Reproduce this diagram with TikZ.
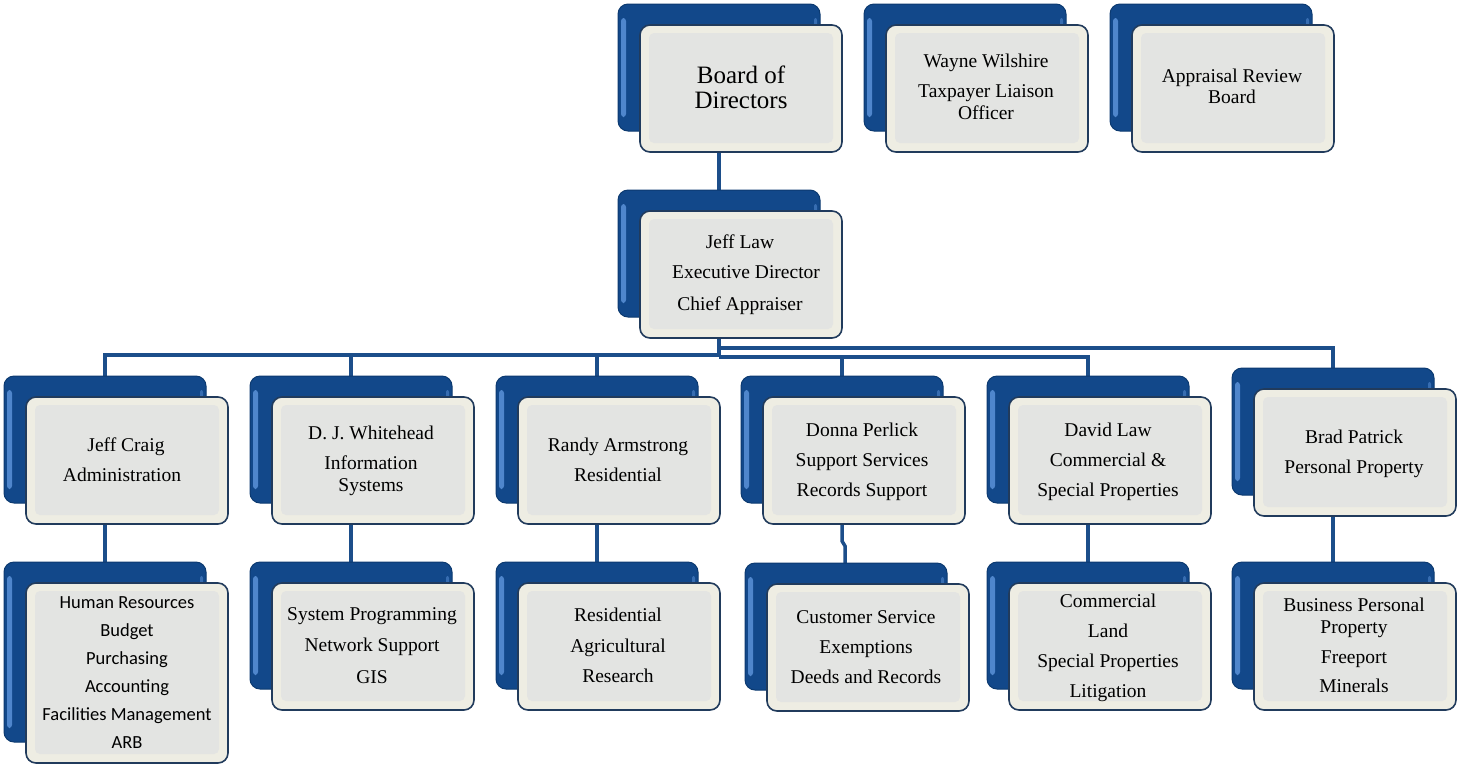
\documentclass[tikz,border=0pt]{standalone}
\usepackage{fontspec}
\setmainfont{Liberation Serif}
\newfontfamily\subsans{Carlito}
\usetikzlibrary{backgrounds}
\definecolor{bkblue}{HTML}{12488A}
\definecolor{bkdark}{HTML}{0C3A70}
\definecolor{bkhi}{HTML}{4F86CC}
\definecolor{frcream}{HTML}{EEEDE3}
\definecolor{frgray}{HTML}{E3E4E2}
\definecolor{frborder}{HTML}{213B5C}
\definecolor{lnblue}{HTML}{1C4E8A}
\tikzset{
  backbox/.style={rounded corners=10pt, fill=bkblue, draw=bkdark, line width=1pt, inner sep=0pt, outer sep=0pt},
  frontbox/.style={rounded corners=10pt, fill=frcream, draw=frborder, line width=1.6pt, inner sep=0pt, outer sep=0pt},
  conn/.style={draw=lnblue, line width=3.5pt},
  txt/.style={anchor=base, inner sep=0pt, font=\fontsize{19.5}{22}\selectfont, text=black},
  bigtxt/.style={anchor=base, inner sep=0pt, font=\fontsize{25}{29}\selectfont, text=black},
  subtxt/.style={anchor=base, inner sep=0pt, font=\subsans\fontsize{18.5}{22}\selectfont, text=black}
}
\newcommand{\orgcard}[5]{%
  \node[backbox, minimum width=#4pt, minimum height=#5pt, anchor=north west] (#1b) at (#2,#3) {};
  \fill[bkhi, rounded corners=3pt] ([shift={(3,14)}]#1b.north west) rectangle ([shift={(8,-14)}]#1b.south west);
  \fill[bkhi!60!bkblue, rounded corners=2pt] ([shift={(-6,14)}]#1b.north east) rectangle ([shift={(-3,-14)}]#1b.south east);
  \node[frontbox, minimum width=#4pt, minimum height=#5pt, anchor=north west] (#1) at (#2+22,#3+21) {};
  \fill[frgray, rounded corners=5pt] ([shift={(9,8)}]#1.north west) rectangle ([shift={(-9,-9)}]#1.south east);
}
\newcommand{\lbl}[5]{\node[#1] (#2) at (#3,#4) {#5};}
\begin{document}
\begin{tikzpicture}[x=1pt,y=-1pt]
\useasboundingbox (0,0) rectangle (1458,764);
% cards
\orgcard{board}{618}{4}{202}{127}
\orgcard{wayne}{864}{4}{202}{127}
\orgcard{arb}{1110}{4}{202}{127}
\orgcard{jlaw}{618}{190}{202}{127}
\orgcard{jcraig}{4}{376}{202}{127}
\orgcard{dj}{250}{376}{202}{127}
\orgcard{randy}{496}{376}{202}{127}
\orgcard{donna}{741}{376}{202}{127}
\orgcard{david}{987}{376}{202}{127}
\orgcard{brad}{1232}{368}{202}{127}
\orgcard{jcraigsub}{4}{562}{202}{180}
\orgcard{djsub}{250}{562}{202}{127}
\orgcard{randysub}{496}{562}{202}{127}
\orgcard{donnasub}{745}{563}{202}{127}
\orgcard{davidsub}{987}{562}{202}{127}
\orgcard{bradsub}{1232}{562}{202}{127}
% connectors
\coordinate (busR) at (719,348);
\coordinate (busL) at (719,355);
\coordinate (busM) at (719,357);
\coordinate (dj1) at (842,541);
\coordinate (dj2) at (845,546);
\begin{scope}[on background layer]
\draw[conn] (boardb.center) -- (jlawb.center);
\draw[conn] (jlawb.center) -- (busL);
\draw[conn] (busR) -| (bradb.center);
\draw[conn] (busL) -| (jcraigb.center);
\draw[conn] (busL) -| (djb.center);
\draw[conn] (busL) -| (randyb.center);
\draw[conn] (busM) -| (donnab.center);
\draw[conn] (busM) -| (davidb.center);
\draw[conn] (jcraigb.center) -- (jcraigsubb.center);
\draw[conn] (djb.center) -- (djsubb.center);
\draw[conn] (randyb.center) -- (randysubb.center);
\draw[conn] (donnab.center) -- (dj1) -- (dj2) -- (donnasubb.center);
\draw[conn] (davidb.center) -- (davidsubb.center);
\draw[conn] (bradb.center) -- (bradsubb.center);
\end{scope}
% texts
\lbl{bigtxt}{t1}{741}{83}{Board of}
\lbl{bigtxt}{t2}{741}{108}{Directors}
\lbl{txt}{t3}{986}{67}{Wayne Wilshire}
\lbl{txt}{t4}{986}{97}{Taxpayer Liaison}
\lbl{txt}{t5}{986}{119}{Officer}
\lbl{txt}{t6}{1232}{82}{Appraisal Review}
\lbl{txt}{t7}{1232}{103}{Board}
\lbl{txt}{t8}{740}{248}{Jeff Law}
\lbl{txt}{t9}{746}{278}{Executive Director}
\lbl{txt}{t10}{740}{310}{Chief Appraiser}
\lbl{txt}{t11}{126}{451}{Jeff Craig}
\lbl{txt}{t12}{122}{481}{Administration}
\lbl{txt}{t13}{371}{439}{D. J. Whitehead}
\lbl{txt}{t14}{371}{469}{Information}
\lbl{txt}{t15}{371}{491}{Systems}
\lbl{txt}{t16}{618}{451}{Randy Armstrong}
\lbl{txt}{t17}{618}{481}{Residential}
\lbl{txt}{t18}{862}{436}{Donna Perlick}
\lbl{txt}{t19}{862}{466}{Support Services}
\lbl{txt}{t20}{862}{496}{Records Support}
\lbl{txt}{t21}{1108}{436}{David Law}
\lbl{txt}{t22}{1108}{466}{Commercial \&}
\lbl{txt}{t23}{1108}{496}{Special Properties}
\lbl{txt}{t24}{1354}{443}{Brad Patrick}
\lbl{txt}{t25}{1354}{473}{Personal Property}
\lbl{subtxt}{t26}{127}{608}{Human Resources}
\lbl{subtxt}{t27}{127}{636}{Budget}
\lbl{subtxt}{t28}{127}{664}{Purchasing}
\lbl{subtxt}{t29}{127}{692}{Accounting}
\lbl{subtxt}{t30}{127}{720}{Facilities Management}
\lbl{subtxt}{t31}{127}{748}{ARB}
\lbl{txt}{t32}{372}{620}{System Programming}
\lbl{txt}{t33}{372}{651}{Network Support}
\lbl{txt}{t34}{372}{683}{GIS}
\lbl{txt}{t35}{618}{621}{Residential}
\lbl{txt}{t36}{618}{652}{Agricultural}
\lbl{txt}{t37}{618}{682}{Research}
\lbl{txt}{t38}{866}{623}{Customer Service}
\lbl{txt}{t39}{866}{653}{Exemptions}
\lbl{txt}{t40}{866}{683}{Deeds and Records}
\lbl{txt}{t41}{1108}{607}{Commercial}
\lbl{txt}{t42}{1108}{637}{Land}
\lbl{txt}{t43}{1108}{667}{Special Properties}
\lbl{txt}{t44}{1108}{697}{Litigation}
\lbl{txt}{t45}{1354}{611}{Business Personal}
\lbl{txt}{t46}{1354}{633}{Property}
\lbl{txt}{t47}{1354}{663}{Freeport}
\lbl{txt}{t48}{1354}{692}{Minerals}
\end{tikzpicture}
\end{document}
